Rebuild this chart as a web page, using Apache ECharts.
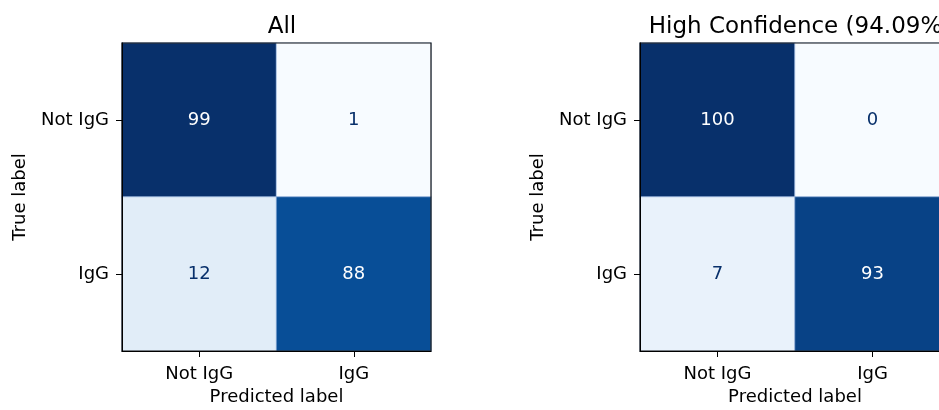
<!DOCTYPE html>
<html>
<head>
<meta charset="utf-8">
<script src="https://cdn.jsdelivr.net/npm/echarts@6/dist/echarts.min.js"></script>
<style>
  html, body { margin: 0; padding: 0; background: #fff; overflow: hidden; }
  /* the right matrix runs past the window edge in the original figure */
  #chart { width: 960px; height: 410px; }
</style>
</head>
<body>
<div id="chart"></div>
<script>
// labels for both matrices
var classNames = ['Not IgG', 'IgG'];
var titleAll = 'All';
var titleHigh = 'High Confidence (94.09%)';

// rows = true label, cols = predicted label
var matrixAll = [
  [99, 1],
  [12, 88]
];
var matrixHigh = [
  [100, 0],
  [7, 93]
];

// matplotlib "Blues"
var blues = ['#f7fbff', '#deebf7', '#c6dbef', '#9ecae1', '#6baed6', '#4292c6', '#2171b5', '#08519c', '#08306b'];

function toCells(m) {
  var flat = [].concat.apply([], m);
  var lo = Math.min.apply(null, flat), hi = Math.max.apply(null, flat);
  var mid = (lo + hi) / 2;
  var out = [];
  m.forEach(function (row, r) {
    row.forEach(function (v, c) {
      out.push({
        value: [c, r, v],
        label: { color: v > mid ? '#ffffff' : '#08306b' }
      });
    });
  });
  return { data: out, min: lo, max: hi };
}

var cellsAll = toCells(matrixAll);
var cellsHigh = toCells(matrixHigh);

var font = 'DejaVu Sans';
var fs = 18;
var grids = [
  { left: 122, top: 43, width: 309, height: 308 },
  { left: 640, top: 43, width: 310, height: 308 }
];

function xAx(i) {
  return {
    type: 'category', gridIndex: i, data: classNames, z: 5,
    name: 'Predicted label', nameLocation: 'middle', nameGap: 37,
    nameTextStyle: { color: '#000', fontSize: fs, fontFamily: font },
    axisLine: { show: true, lineStyle: { color: '#000', width: 1 } },
    axisTick: { show: true, alignWithLabel: true, length: 6, lineStyle: { color: '#000' } },
    axisLabel: { color: '#000', fontSize: fs, fontFamily: font, margin: 14 },
    splitLine: { show: false }
  };
}
function yAx(i) {
  return {
    type: 'category', gridIndex: i, data: classNames, inverse: true, z: 5,
    name: 'True label', nameLocation: 'middle', nameGap: 93,
    nameTextStyle: { color: '#000', fontSize: fs, fontFamily: font },
    axisLine: { show: true, lineStyle: { color: '#000', width: 1 } },
    axisTick: { show: true, alignWithLabel: true, length: 6, lineStyle: { color: '#000' } },
    axisLabel: { color: '#000', fontSize: fs, fontFamily: font, margin: 13 },
    splitLine: { show: false }
  };
}

var option = {
  backgroundColor: '#ffffff',
  animation: false,
  title: [
    { text: titleAll, left: 277, top: 11, textAlign: 'center',
      textStyle: { color: '#000', fontSize: 23, fontWeight: 'normal', fontFamily: font } },
    { text: titleHigh, left: 795, top: 11, textAlign: 'center',
      textStyle: { color: '#000', fontSize: 23, fontWeight: 'normal', fontFamily: font } }
  ],
  grid: grids.map(function (g) {
    return Object.assign({
      show: true, z: 5, outerBoundsMode: 'none', containLabel: false,
      borderColor: '#1a1a1a', borderWidth: 1.2, backgroundColor: 'transparent'
    }, g);
  }),
  xAxis: [xAx(0), xAx(1)],
  yAxis: [yAx(0), yAx(1)],
  visualMap: [
    { show: false, seriesIndex: 0, min: cellsAll.min, max: cellsAll.max, dimension: 2, inRange: { color: blues } },
    { show: false, seriesIndex: 1, min: cellsHigh.min, max: cellsHigh.max, dimension: 2, inRange: { color: blues } }
  ],
  series: [
    {
      type: 'heatmap', xAxisIndex: 0, yAxisIndex: 0, data: cellsAll.data,
      itemStyle: { borderColor: 'rgba(150,180,220,0.9)', borderWidth: 0.8 },
      label: { show: true, fontSize: fs, fontFamily: font }
    },
    {
      type: 'heatmap', xAxisIndex: 1, yAxisIndex: 1, data: cellsHigh.data,
      itemStyle: { borderColor: 'rgba(150,180,220,0.9)', borderWidth: 0.8 },
      label: { show: true, fontSize: fs, fontFamily: font }
    }
  ]
};

var myChart = echarts.init(document.getElementById('chart'));
myChart.setOption(option);
</script>
</body>
</html>
